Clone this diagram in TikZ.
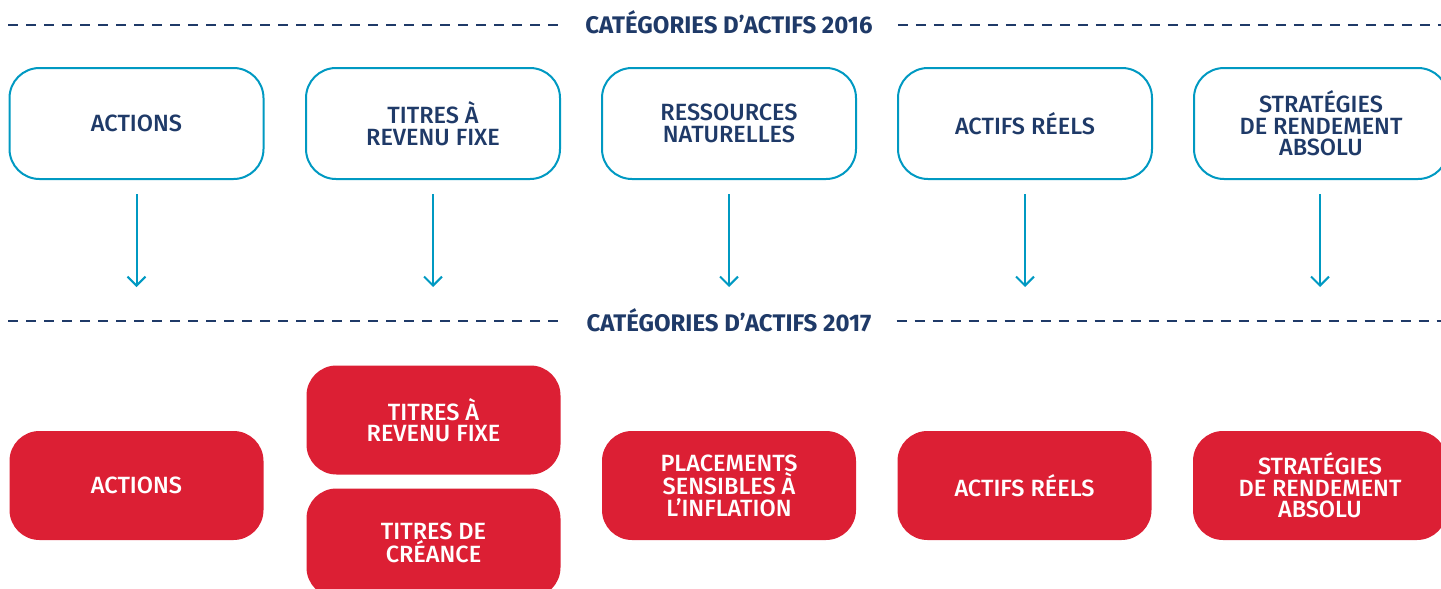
\documentclass[tikz,border=0pt]{standalone}
\usepackage{fontspec}
\setmainfont{Fira Sans}
\newfontfamily\medfont{Fira Sans Medium}
\usetikzlibrary{arrows.meta}
\definecolor{navyblue}{HTML}{1F3A68}
\definecolor{cyanblue}{HTML}{0099C2}
\definecolor{boxred}{HTML}{DC1F34}
\tikzset{
	oldcat/.style={draw=cyanblue, line width=2pt, rounded corners=30pt, minimum width=254pt, minimum height=111pt, align=center, text=navyblue, font=\medfont\fontsize{23.5}{21.5}\selectfont},
	newcat/.style={fill=boxred, rounded corners=30pt, minimum width=254pt, minimum height=109pt, align=center, text=white, font=\medfont\fontsize{23.5}{21.5}\selectfont},
	heading/.style={text=navyblue, inner sep=0pt, anchor=base, font=\bfseries\fontsize{24}{24}\selectfont},
	dashline/.style={navyblue, line width=2pt, dash pattern=on 10pt off 8pt},
	arr/.style={cyanblue, line width=2pt, shorten <=14pt, -{Straight Barb[length=9pt,width=18pt]}}
}

\begin{document}
\begin{tikzpicture}[x=1pt, y=-1pt]
		%%%%% START %%%%%
		\clip (0, 0) rectangle (1441, 589);
		\useasboundingbox (0, 0) rectangle (1441, 589);
		
		%%%%% 2016 %%%%%
		\node[heading] (h16) at (729, 34) {CATÉGORIES D’ACTIFS 2016};
		\coordinate (l16) at (8, 25);
		\coordinate (r16) at (1441, 25);
		\draw[dashline] (l16) -- ([xshift=-26pt]h16.west |- l16);
		\draw[dashline] ([xshift=25pt]h16.east |- r16) -- (r16);
		
		\node[oldcat] (a1) at (136.5, 123.5) {ACTIONS};
		\node[oldcat] (a2) at (433, 123.5) {TITRES À\\REVENU FIXE};
		\node[oldcat] (a3) at (729, 123.5) {RESSOURCES\\NATURELLES};
		\node[oldcat] (a4) at (1025, 123.5) {ACTIFS RÉELS};
		\node[oldcat] (a5) at (1321, 123.5) {STRATÉGIES\\DE RENDEMENT\\ABSOLU};
		
		%%%%% ARROWS %%%%%
		\coordinate (e1) at (136.5, 287);
		\coordinate (e2) at (433, 287);
		\coordinate (e3) at (729, 287);
		\coordinate (e4) at (1025, 287);
		\coordinate (e5) at (1320, 287);
		\draw[arr] (a1) -- (e1);
		\draw[arr] (a2) -- (e2);
		\draw[arr] (a3) -- (e3);
		\draw[arr] (a4) -- (e4);
		\draw[arr] ([xshift=-1pt]a5.south) -- (e5);
		
		%%%%% 2017 %%%%%
		\node[heading] (h17) at (729, 331) {CATÉGORIES D’ACTIFS 2017};
		\coordinate (l17) at (8, 321);
		\coordinate (r17) at (1441, 321);
		\draw[dashline] (l17) -- ([xshift=-26pt]h17.west |- l17);
		\draw[dashline] ([xshift=25pt]h17.east |- r17) -- (r17);
		
		\node[newcat] (b1) at (136.5, 485.5) {ACTIONS};
		\node[newcat] (b2) at (433.5, 420) {TITRES À\\REVENU FIXE};
		\node[newcat] (b6) at (433.5, 543) {TITRES DE\\CRÉANCE};
		\node[newcat] (b3) at (729, 485.5) {PLACEMENTS\\SENSIBLES À\\L’INFLATION};
		\node[newcat] (b4) at (1024.5, 485.5) {ACTIFS RÉELS};
		\node[newcat] (b5) at (1320, 485.5) {STRATÉGIES\\DE RENDEMENT\\ABSOLU};
		
		%%%%% END %%%%%
	\end{tikzpicture}
\end{document}
